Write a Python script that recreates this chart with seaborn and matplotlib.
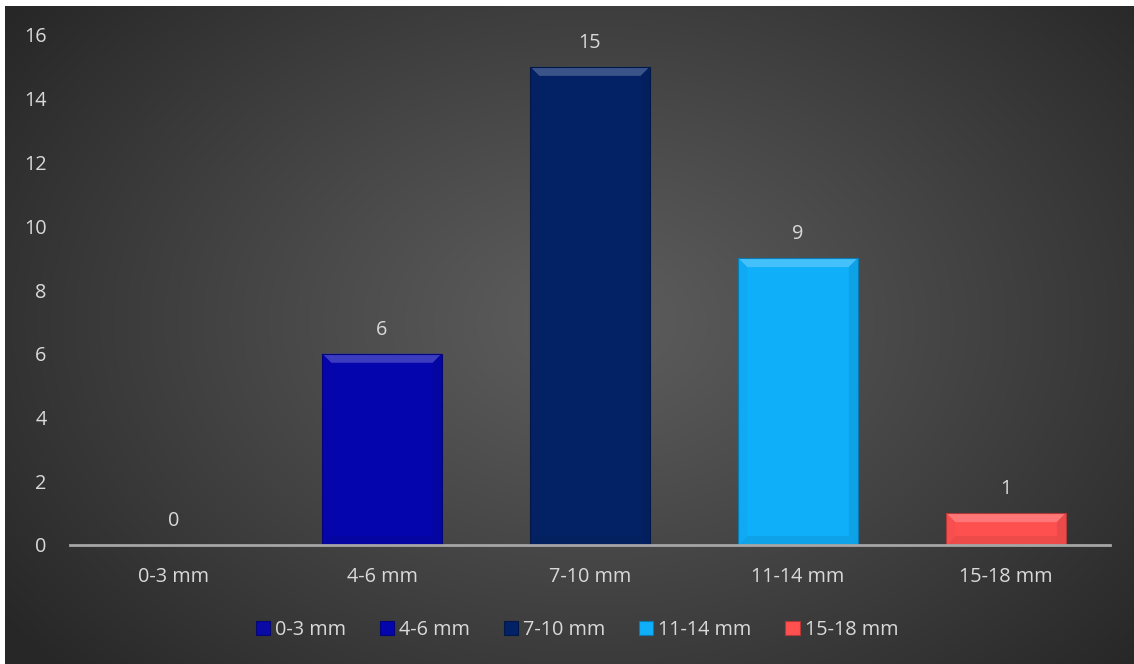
import numpy as np
import pandas as pd
import matplotlib
matplotlib.use("Agg")
import matplotlib.pyplot as plt
from matplotlib.patches import Polygon, Patch, Rectangle
import seaborn as sns

# ---- data ----
categories = ["0-3 mm", "4-6 mm", "7-10 mm", "11-14 mm", "15-18 mm"]
values = [0, 6, 15, 9, 1]
bar_colors = ["#0A0AA6", "#0505AE", "#032266", "#0FAFFA", "#FF5050"]
y_ticks = [0, 2, 4, 6, 8, 10, 12, 14, 16]

sns.set_theme(style="white")
plt.rcParams["font.family"] = ["Open Sans", "DejaVu Sans"]

W, H = 1134, 664
FS = 14.3
TXT = "#D9D9D9"
fig = plt.figure(figsize=(W / 100, H / 100), dpi=100, facecolor="white")

# ---- radial gradient background ----
bg = fig.add_axes([5 / W, 0, 1 - 5 / W, 1 - 6 / H], zorder=-10)
gx = np.linspace(0, 1, 600)
gy = np.linspace(0, 1, 400)
GX, GY = np.meshgrid(gx, gy)
r = np.sqrt(((GX - 0.52) / 0.64) ** 2 + ((GY - 0.52) / 0.78) ** 2)
r = np.clip(r, 0, 1)
shade = 0.365 - (0.365 - 0.155) * r ** 1.1
img = np.dstack([shade, shade, shade])
bg.imshow(img, extent=[0, 1, 0, 1], aspect="auto", origin="lower")
bg.set_axis_off()

# ---- main axes ----
ax = fig.add_axes([70 / W, 119 / H, 1040 / W, 510 / H])
ax.set_facecolor("none")
df = pd.DataFrame({"cat": categories, "val": values})
sns.barplot(data=df, x="cat", y="val", hue="cat", palette=bar_colors,
            order=categories, hue_order=categories, dodge=False,
            width=0.575, legend=False, ax=ax, saturation=1,
            edgecolor="none", linewidth=0)

ax.set_ylim(0, 16)
ax.set_xlim(-0.5, 4.5)
ax.set_yticks(y_ticks)
ax.set_yticklabels([str(t) for t in y_ticks])
ax.set_xlabel("")
ax.set_ylabel("")
for s in ["top", "right", "left"]:
    ax.spines[s].set_visible(False)
ax.spines["bottom"].set_color("#A6A6A6")
ax.spines["bottom"].set_linewidth(2)
ax.spines["bottom"].set_zorder(5)
ax.tick_params(axis="y", length=0, pad=17, labelsize=FS, labelcolor=TXT)
ax.tick_params(axis="x", length=0, pad=16, labelsize=FS, labelcolor=TXT)


def mix(c, w, t):
    c = np.array(matplotlib.colors.to_rgb(c))
    w = np.array(matplotlib.colors.to_rgb(w))
    return tuple(c * (1 - t) + w * t)


# ---- bevel decorations derived from bar patches ----
px_per_y = 510 / 16.0
px_per_x = 1040 / 5.0
bev_px = 9
for p, col in zip(ax.patches, bar_colors):
    x0, w, h = p.get_x(), p.get_width(), p.get_height()
    if h <= 0:
        continue
    x1 = x0 + w
    by = bev_px / px_per_y
    bx = bev_px / px_per_x
    by = min(by, h / 2.5)
    ax.add_patch(Polygon([(x0, h), (x1, h), (x1 - bx, h - by), (x0 + bx, h - by)],
                         closed=True, facecolor=mix(col, "white", 0.22),
                         edgecolor="none", zorder=3))
    ax.add_patch(Polygon([(x0, 0), (x1, 0), (x1 - bx, by), (x0 + bx, by)],
                         closed=True, facecolor=mix(col, "black", 0.07),
                         edgecolor="none", zorder=3))
    ax.add_patch(Polygon([(x0, 0), (x0 + bx, by), (x0 + bx, h - by), (x0, h)],
                         closed=True, facecolor=mix(col, "black", 0.03),
                         edgecolor="none", zorder=3))
    ax.add_patch(Polygon([(x1, 0), (x1 - bx, by), (x1 - bx, h - by), (x1, h)],
                         closed=True, facecolor=mix(col, "black", 0.08),
                         edgecolor="none", zorder=3))
    ax.add_patch(Rectangle((x0, 0), w, h, facecolor="none",
                           edgecolor=mix(col, "black", 0.3), linewidth=0.8, zorder=4))

# ---- data labels ----
for container in ax.containers:
    ax.bar_label(container, fmt="%g", padding=10, fontsize=FS, color=TXT)

# ---- legend ----
handles = [Patch(facecolor=c, edgecolor=mix(c, "black", 0.3), linewidth=0.8)
           for c in bar_colors]
leg = fig.legend(handles, categories, loc="center", bbox_to_anchor=(577 / W, 1 - 630 / H),
                 ncol=5, frameon=False, fontsize=FS, handlelength=0.72,
                 handleheight=0.72, handletextpad=0.25, columnspacing=1.7,
                 labelcolor=TXT)

fig.savefig("out.png", dpi=100, facecolor="white")
